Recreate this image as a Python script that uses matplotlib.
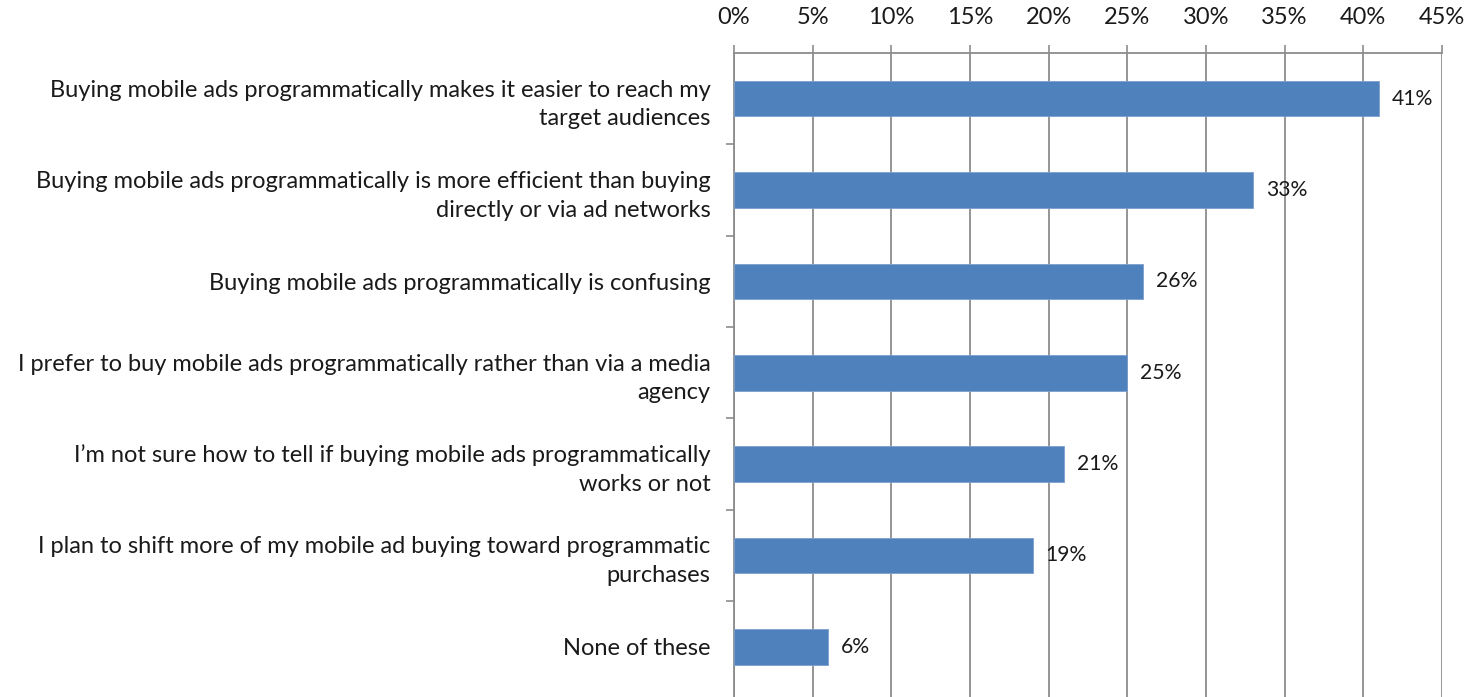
import numpy as np
import matplotlib.pyplot as plt
from matplotlib.ticker import FixedLocator, PercentFormatter

plt.rcParams['font.family'] = ['Lato', 'DejaVu Sans']

# survey statements, top to bottom
statements = [
    "Buying mobile ads programmatically makes it easier to reach my\ntarget audiences",
    "Buying mobile ads programmatically is more efficient than buying\ndirectly or via ad networks",
    "Buying mobile ads programmatically is confusing",
    "I prefer to buy mobile ads programmatically rather than via a media\nagency",
    "I\u2019m not sure how to tell if buying mobile ads programmatically\nworks or not",
    "I plan to shift more of my mobile ad buying toward programmatic\npurchases",
    "None of these",
]
share_pct = [41, 33, 26, 25, 21, 19, 6]
x_ticks = [0, 5, 10, 15, 20, 25, 30, 35, 40, 45]

W, H = 1466, 697
fig = plt.figure(figsize=(W / 100, H / 100), dpi=100)
ax = fig.add_axes([734 / W, 0, (1442 - 734) / W, (H - 53) / H])

grid_col = '#8c8c8c'
bar_col = '#4f81bd'
fs = 17

y = np.arange(len(statements))
ax.barh(y, share_pct, height=0.39, color=bar_col, edgecolor='#7d9fcf',
        linewidth=0.6, zorder=3)

for yi, v in zip(y, share_pct):
    ax.text(v + 0.8, yi, f"{v}%", va='center', ha='left',
            fontsize=fs - 1.8, color='#1a1a1a', zorder=4)

ax.set_xlim(0, 45)
ax.set_ylim(6.55, -0.5)

# x axis along the top
ax.xaxis.tick_top()
ax.set_xticks(x_ticks)
ax.xaxis.set_major_formatter(PercentFormatter(decimals=0))
ax.tick_params(axis='x', which='major', length=6, width=1.2, color=grid_col,
               pad=12, labelsize=fs, labelcolor='#1a1a1a')
ax.grid(axis='x', color=grid_col, linewidth=1.3, zorder=0)

# category labels, with boundary ticks between them
ax.set_yticks(y)
ax.set_yticklabels(statements, ha='right', linespacing=1.45)
ax.yaxis.set_minor_locator(FixedLocator(np.arange(0.5, len(statements) - 1, 1)))
ax.tick_params(axis='y', which='major', length=0, pad=17,
               labelsize=fs, labelcolor='#1a1a1a')
ax.tick_params(axis='y', which='minor', length=6, width=1.2, color=grid_col)

for side in ['right', 'bottom']:
    ax.spines[side].set_visible(False)
for side in ['top', 'left']:
    ax.spines[side].set_color(grid_col)
    ax.spines[side].set_linewidth(1.3)

fig.savefig('out.png', dpi=100, facecolor='white')
